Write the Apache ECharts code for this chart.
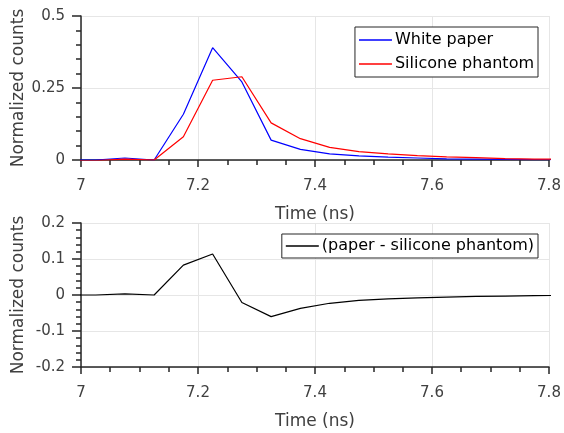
<!DOCTYPE html>
<html>
<head>
<meta charset="utf-8">
<script src="https://cdn.jsdelivr.net/npm/echarts@6/dist/echarts.min.js"></script>
<style>
	html, body { margin: 0; padding: 0; background: #fff; }
	#chart { width: 564px; height: 433px; }
</style>
</head>
<body>
<div id="chart"></div>
<script type="text/javascript">
	// time samples (ns)
	var timeNs = [6.975, 7.025, 7.075, 7.125, 7.175, 7.225, 7.275, 7.325, 7.375, 7.425, 7.475, 7.525, 7.575, 7.625, 7.675, 7.725, 7.775, 7.825];
	var whitePaper = [0, 0, 0.007, 0, 0.159, 0.390, 0.271, 0.069, 0.037, 0.021, 0.014, 0.010, 0.007, 0.004, 0.003, 0.002, 0.001, 0.001];
	var siliconePhantom = [-0.002, -0.002, 0.003, 0, 0.081, 0.277, 0.289, 0.129, 0.074, 0.044, 0.029, 0.021, 0.015, 0.011, 0.008, 0.005, 0.003, 0.003];
	var difference = [0, 0, 0.003, 0, 0.083, 0.114, -0.021, -0.060, -0.037, -0.023, -0.015, -0.011, -0.008, -0.006, -0.004, -0.003, -0.002, -0.001];

	function pairs(xs, ys) {
		var out = [];
		for (var i = 0; i < xs.length; i++) out.push([xs[i], ys[i]]);
		return out;
	}

	var font = 'DejaVu Sans';
	var axisColor = '#262626';
	var textColor = '#404040';

	function xAxis(idx) {
		return {
			type: 'value', gridIndex: idx,
			min: 7, max: 7.8, interval: 0.2,
			name: 'Time (ns)', nameLocation: 'middle', nameGap: 46, nameMoveOverlap: false,
			nameTextStyle: { fontFamily: font, fontSize: 17, color: textColor },
			axisLine: { show: true, onZero: false, lineStyle: { color: axisColor, width: 1.5 } },
			axisTick: { show: true, inside: false, length: 7, lineStyle: { color: axisColor, width: 1.5 } },
			minorTick: { show: true, splitNumber: 4, length: 5, lineStyle: { color: axisColor, width: 1.5 } },
			axisLabel: { fontFamily: font, fontSize: 15, color: textColor, margin: 19 },
			splitLine: { show: true, lineStyle: { color: '#e6e6e6', width: 1 } }
		};
	}

	function yAxis(idx, min, max, interval) {
		return {
			type: 'value', gridIndex: idx,
			min: min, max: max, interval: interval,
			name: 'Normalized counts', nameLocation: 'middle', nameGap: 54, nameMoveOverlap: false,
			nameTextStyle: { fontFamily: font, fontSize: 17, color: textColor },
			axisLine: { show: true, onZero: false, lineStyle: { color: axisColor, width: 1.5 } },
			axisTick: { show: true, inside: false, length: 9, lineStyle: { color: axisColor, width: 1.5 } },
			minorTick: { show: true, splitNumber: 5, length: 5, lineStyle: { color: axisColor, width: 1.5 } },
			axisLabel: { fontFamily: font, fontSize: 15, color: textColor, margin: 16 },
			splitLine: { show: true, lineStyle: { color: '#e6e6e6', width: 1 } }
		};
	}

	function legend(names, top, pad) {
		return {
			data: names, orient: 'vertical', right: 26, top: top,
			icon: 'rect', itemWidth: 33, itemHeight: 1.5, itemGap: 4,
			padding: pad,
			backgroundColor: '#fff', borderColor: axisColor, borderWidth: 1, borderRadius: 0,
			textStyle: { fontFamily: font, fontSize: 16, color: '#000', lineHeight: 20, padding: [0, 0, 0, -2] }
		};
	}

	var option = {
		animation: false,
		backgroundColor: '#fff',
		grid: [
			{ left: 81, right: 15, top: 16, height: 144, outerBoundsMode: 'none' },
			{ left: 81, right: 15, top: 223, height: 144, outerBoundsMode: 'none' }
		],
		xAxis: [xAxis(0), xAxis(1)],
		yAxis: [yAxis(0, 0, 0.5, 0.25), yAxis(1, -0.2, 0.2, 0.1)],
		legend: [
			legend(['White paper', 'Silicone phantom'], 27, [3, 4, 3, 4]),
			legend(['(paper - silicone phantom)'], 234, [2, 4, 2, 4])
		],
		series: [
			{
				name: 'White paper', type: 'line', xAxisIndex: 0, yAxisIndex: 0,
				data: pairs(timeNs, whitePaper), showSymbol: false, symbol: 'none',
				color: '#0000ff', lineStyle: { width: 1.2 }
			},
			{
				name: 'Silicone phantom', type: 'line', xAxisIndex: 0, yAxisIndex: 0,
				data: pairs(timeNs, siliconePhantom), showSymbol: false, symbol: 'none',
				color: '#ff0000', lineStyle: { width: 1.2 }
			},
			{
				name: '(paper - silicone phantom)', type: 'line', xAxisIndex: 1, yAxisIndex: 1,
				data: pairs(timeNs, difference), showSymbol: false, symbol: 'none',
				color: '#000000', lineStyle: { width: 1.2 }
			}
		]
	};

	var chart = echarts.init(document.getElementById('chart'));
	chart.setOption(option);
</script>
</body>
</html>
